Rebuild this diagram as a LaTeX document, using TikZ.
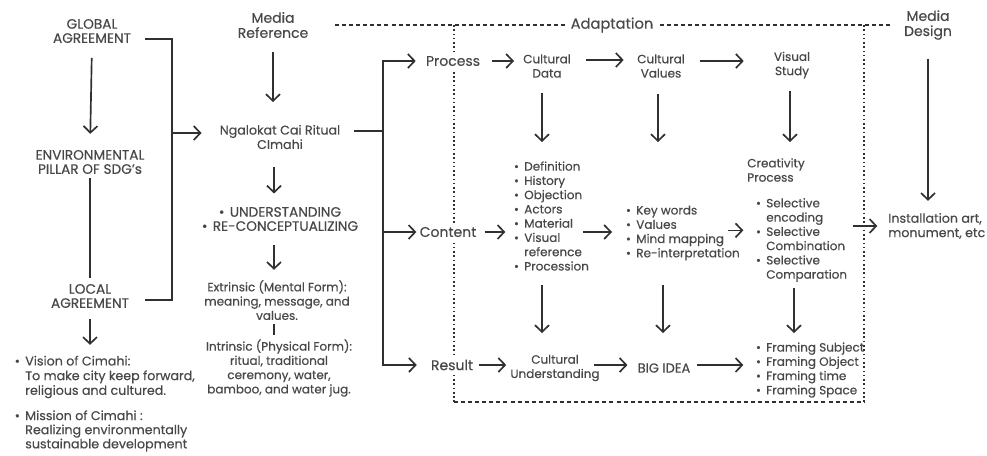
\documentclass[tikz,border=0pt]{standalone}
\usepackage{fontspec}
\setmainfont{Poppins}[FakeBold=0.35]
\usetikzlibrary{arrows.meta,calc}
\definecolor{inkline}{HTML}{303030}
\definecolor{inktext}{HTML}{484848}
% bullet hung to the left of a list line
\newcommand\itemdot{\llap{\textbullet\hspace{4pt}}}
\tikzset{
  txt/.style={text=inktext, font=\fontsize{9pt}{10.7pt}\selectfont, inner sep=0pt, align=center},
  midtxt/.style={font=\fontsize{9.5pt}{10.8pt}\selectfont},
  captxt/.style={font=\fontsize{10.25pt}{10.6pt}\selectfont},
  hdr/.style={font=\fontsize{10.5pt}{11.3pt}\selectfont},
  lst/.style={txt, align=left, anchor=west},
  tag/.style={txt, hdr, fill=white, inner xsep=1pt, inner ysep=3pt},
  conn/.style={draw=inkline, line width=1.25pt},
  arr/.style={conn, -{Straight Barb[length=5pt,width=10.5pt]}},
  dashline/.style={draw=inkline, line width=1.2pt, dash pattern=on 3pt off 2.3pt},
  dotline/.style={draw=inkline, line width=1.3pt, dash pattern=on 1.2pt off 2pt},
}
\begin{document}
\begin{tikzpicture}[x=0.75pt,y=-0.75pt]
\fill[white] (0,0) rectangle (987,455);
\useasboundingbox (0,0) rectangle (987,455);

% ---------- Adaptation frame ----------
\draw[dashline] (335,25) -- (892,25);
\draw[dotline] (454,25) -- (454,402);
\draw[dotline] (864,25) -- (864,402);
\draw[dashline] (454,402) -- (864,402);
\node[txt, fill=white, inner xsep=4pt, inner ysep=2pt, font=\fontsize{11pt}{12pt}\selectfont] (adapt) at (612,25) {Adaptation};

% ---------- left column ----------
\node[txt, captxt] (glob) at (92,31) {GLOBAL\\AGREEMENT};
\node[txt, captxt] (env) at (90,162) {ENVIRONMENTAL\\PILLAR OF SDG’s};
\node[txt, captxt] (loc) at (90,296) {LOCAL\\AGREEMENT};
\node[lst, font=\fontsize{9.5pt}{11pt}\selectfont] (vis) at (25,377) {\itemdot Vision of Cimahi:\\To make city keep forward,\\religious and cultured.};
\node[lst, font=\fontsize{9.5pt}{10.6pt}\selectfont] (mis) at (25,431) {\itemdot Mission of Cimahi :\\Realizing environmentally\\sustainable development};

\draw[arr, shorten <=11pt, shorten >=12pt] (glob.south) -- (env.north);
\draw[conn, shorten <=3pt, shorten >=4pt] (env.south) -- (loc.north);
\draw[arr, shorten <=8pt, shorten >=8pt] (loc.south) -- (loc.south |- vis.north);

% ---------- middle column ----------
\node[txt, hdr] (mref) at (273,25) {Media\\Reference};
\node[txt, midtxt] (ngal) at (280,137) {Ngalokat Cai Ritual\\CImahi};
\node[txt, captxt] (und) at (280,219) {\textbullet\hspace{4pt}UNDERSTANDING\\\textbullet\hspace{4pt}RE-CONCEPTUALIZING};
\node[txt] (ext) at (277,300) {Extrinsic (Mental Form):\\meaning, message, and\\values.};
\node[txt] (int) at (279,368) {Intrinsic (Physical Form):\\ritual, traditional\\ceremony, water,\\bamboo, and water jug.};

\coordinate (join) at (172,133);
\draw[conn] ([shift={(10.5pt,-6pt)}]glob.east) -| (join) |- ([shift={(12pt,-3pt)}]loc.east);
\draw[arr, shorten >=13.5pt] (join) -- (join -| ngal.west);

\coordinate (midx) at (274,0);
\draw[arr, shorten <=10pt, shorten >=17pt] (mref.south) -- (mref.south |- ngal.north);
\draw[arr, shorten <=13pt, shorten >=10pt] (midx |- ngal.south) -- (midx |- und.north);
\draw[arr, shorten <=10pt, shorten >=7.5pt] (midx |- und.south) -- (midx |- ext.north);
\draw[conn, shorten <=3pt, shorten >=3pt] (midx |- ext.south) -- (midx |- int.north);

% ---------- process / content / result ----------
\node[tag] (proc) at (453,61) {Process};
\node[tag] (cont) at (448,232) {Content};
\node[tag] (res) at (452,365) {Result};

\coordinate (spine) at (383,131);
\draw[conn] ([xshift=10.5pt]ngal.east |- spine) -- (spine);
\draw[conn, line cap=rect] (spine |- proc) -- (spine |- res);
\draw[arr, shorten >=6.5pt] (spine |- proc) -- (proc.west);
\draw[arr, shorten >=1.3pt] (spine |- cont) -- (cont.west);
\draw[arr, shorten >=9.5pt] (spine |- res) -- (res.west);

% process row
\node[txt] (cdata) at (547,66) {Cultural\\Data};
\node[txt] (cval) at (661,66) {Cultural\\Values};
\node[txt] (vstudy) at (792,65) {Visual\\Study};

\draw[arr, shorten <=8pt, shorten >=6.75pt] (proc.east) -- (proc.east -| cdata.west);
\draw[arr, shorten <=11pt, shorten >=10pt] ([yshift=4.5pt]cdata.east) -- ([yshift=4.5pt]cdata.east -| cval.west);
\draw[arr, shorten <=11pt, shorten >=22.5pt] ([yshift=3.75pt]cval.east) -- ([yshift=3.75pt]cval.east -| vstudy.west);

% content row
\node[lst] (l1) at (524,216) {\itemdot Definition\\\itemdot History\\\itemdot Objection\\\itemdot Actors\\\itemdot Material\\\itemdot Visual\\reference\\\itemdot Procession};
\node[lst] (l2) at (636,233) {\itemdot Key words\\\itemdot Values\\\itemdot Mind mapping\\\itemdot Re-interpretation};
\node[lst] (cre) at (747,170) {Creativity\\Process};
\node[lst] (l3) at (766,240) {\itemdot Selective\\encoding\\\itemdot Selective\\Combination\\\itemdot Selective\\Comparation};
\node[lst, midtxt] (inst) at (888,226) {Installation art,\\monument, etc};
\node[txt, hdr] (mdes) at (928,25) {Media\\Design};

\draw[arr, shorten <=5pt, shorten >=14pt] (cont.east) -- (cont.east -| l1.west);
\draw[arr, shorten <=-4.5pt, shorten >=18pt] (l1.east |- cont.east) -- (l2.west |- cont.east);
\draw[arr, shorten <=-9pt, shorten >=17pt] ([yshift=2pt]l2.east) -- ([yshift=2pt]l2.east -| l3.west);
\draw[arr, shorten <=4pt, shorten >=8pt] (l3.east |- inst.west) -- (inst.west);
\draw[arr, shorten <=14pt, shorten >=9pt] (mdes.south) -- (mdes.south |- inst.north);

% result row
\node[txt] (cu) at (555,368) {Cultural\\Understanding};
\node[txt, font=\fontsize{9.75pt}{11pt}\selectfont] (big) at (664,368) {BIG IDEA};
\node[lst] (frm) at (766,370) {\itemdot Framing Subject\\\itemdot Framing Object\\\itemdot Framing time\\\itemdot Framing Space};

\draw[arr, shorten <=3pt, shorten >=3pt] (res.east) -- (res.east -| cu.west);
\draw[arr, shorten <=-4.5pt, shorten >=7.5pt] (cu.east |- res.east) -- (big.west |- res.east);
\draw[arr, shorten <=4.5pt, shorten >=17pt] (big.east |- res.east) -- (frm.west |- res.east);

% vertical links between rows
\coordinate (colA) at (542,0);
\coordinate (colB) at (658,0);
\coordinate (colC) at (790,0);
\coordinate (colB2) at (663,0);
\coordinate (colC2) at (794,0);
\coordinate (r1) at (0,142);
\coordinate (r2) at (0,333);
\draw[arr, shorten <=11pt] (colA |- cdata.south) -- (colA |- r1);
\draw[arr, shorten <=12pt] (colB |- cval.south) -- (colB |- r1);
\draw[arr, shorten <=9pt] (colC |- vstudy.south) -- (colC |- r1);
\draw[arr, shorten <=10.5pt] (colA |- l1.south) -- (colA |- r2);
\draw[arr, shorten <=18pt] (colB2 |- l2.south) -- (colB2 |- r2);
\draw[arr, shorten <=4.5pt] (colC2 |- l3.south) -- (colC2 |- r2);
\end{tikzpicture}
\end{document}
